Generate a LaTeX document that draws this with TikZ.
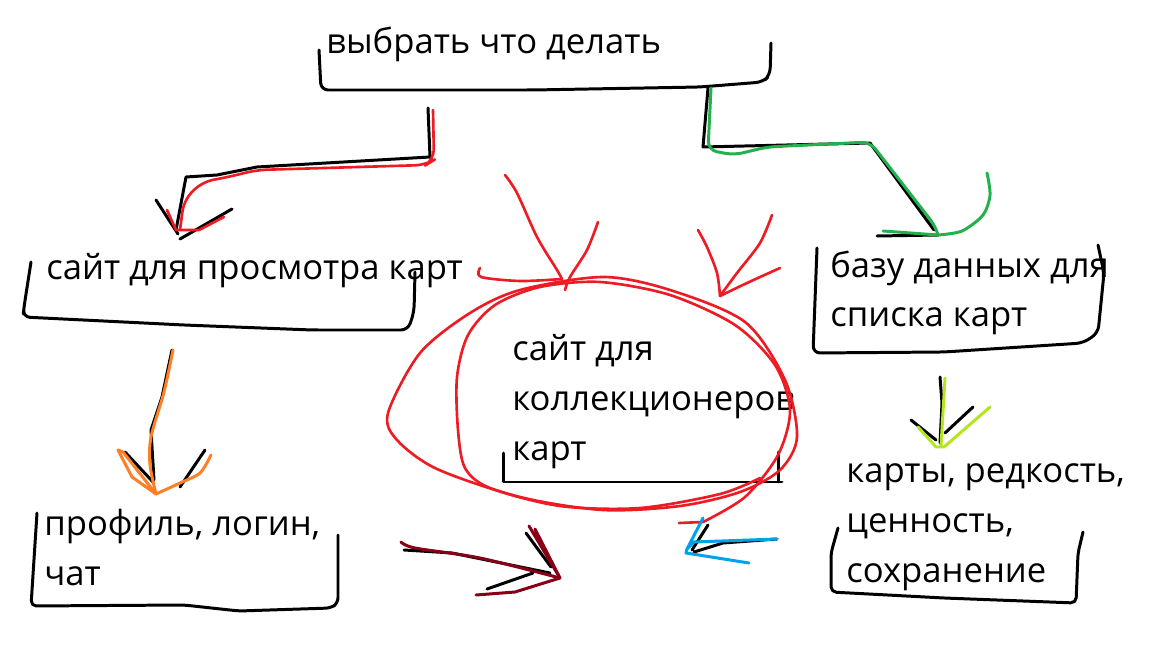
\documentclass[tikz,border=0pt]{standalone}
\usepackage{fontspec}
\setmainfont{Open Sans}
\usetikzlibrary{positioning}
\definecolor{paintred}{RGB}{237,28,36}
\definecolor{paintgreen}{RGB}{34,177,76}
\definecolor{paintorange}{RGB}{255,127,39}
\definecolor{paintwine}{RGB}{136,0,21}
\definecolor{paintblue}{RGB}{0,162,232}
\definecolor{paintlime}{RGB}{181,230,29}
\tikzset{
  pen/.style={line width=1.7pt,line cap=round,line join=round},
  redpen/.style={pen,line width=1.5pt,paintred},
  lbl/.style={anchor=base west,inner sep=0pt,align=left,font=\fontsize{19.7}{28.35}\selectfont}
}
\begin{document}
\begin{tikzpicture}[x=0.02cm,y=-0.02cm]
  \useasboundingbox (0,0) rectangle (1152,648);
  % labels (base = last line)
  \node[lbl] (task) at (326,54) {выбрать что делать};
  \node[lbl] (viewer) at (46,280) {сайт для просмотра карт};
  \node[lbl] (db) at (830,327) {базу данных для\\списка карт};
  \node[lbl] (collector) at (512,460) {сайт для\\коллекционеров\\карт};
  \node[lbl] (profile) at (44,585) {профиль, логин,\\чат};
  \node[lbl] (cards) at (846,582) {карты, редкость,\\ценность,\\сохранение};
  % hand drawn brackets
  \draw[pen,rounded corners=4pt] (319,50) -- (321,90) -- (533,90) -- (700,87) -- (763,82) -- (770,75) -- (771,43);
  \draw[pen,rounded corners=4pt] (31,262) -- (24,307) -- (23,317) -- (184,325) -- (312,330) -- (408,330) -- (414,312) -- (415,272);
  \draw[pen,rounded corners=4pt] (817,248) -- (813,353) -- (944,352) -- (1083,343) -- (1098,333) -- (1104,273) -- (1098,245);
  \draw[pen,rounded corners=3pt] (37,513) -- (31,606) -- (184,605) -- (239,611) -- (331,608) -- (338,603) -- (338,535);
  \draw[pen,rounded corners=3pt] (838,528) -- (831,553) -- (831,592) -- (944,598) -- (1076,603) -- (1078,553) -- (1083,532);
  \draw[pen] (503,453) -- (503,482) -- (782,482) (778,452) -- (778,482);
  % task -> viewer
  \coordinate (taskL) at (433,110);
  \coordinate (viewerT) at (178,234);
  \draw[pen] (taskL) ++(-5,-2) -- (430,157) -- (257,167) -- (217,175) -- (186,177) -- (176,230);
  \draw[pen] (156,200) -- (viewerT) (232,209) -- (180,239);
  \draw[redpen,rounded corners=6pt] (taskL) -- (434,160) -- (426,165) -- (257,170) -- (228,177) -- (202,182) -- (184,200) -- (180,230);
  \draw[redpen] (167,210) -- (176,230) -- (199,230) -- (224,217);
  % task -> db
  \coordinate (taskR) at (711,88);
  \coordinate (dbT) at (938,235);
  \draw[pen] (taskR) ++(-3,0) -- (703,147) -- (870,143) -- (934,230) (877,236) -- (dbT);
  \draw[pen,paintgreen,rounded corners=5pt] (taskR) -- (708,150) -- (734,155) -- (767,147) -- (870,142) -- (936,227) -- (dbT);
  \draw[pen,paintgreen] (883,231) -- (dbT);
  \draw[pen,paintgreen] plot[smooth] coordinates {(dbT) (962,231) (983,215) (990,195) (987,173)};
  % viewer -> profile
  \coordinate (viewerB) at (172,350);
  \coordinate (profileT) at (156,494);
  \draw[pen] (viewerB) -- (162,397) -- (151,430) -- (154,480) (125,452) -- (153,482) (205,450) -- (180,487);
  \draw[pen,paintorange] plot[smooth] coordinates {(173,350) (164,392) (151,437) (150,465) (profileT)};
  \draw[pen,paintorange] (118,450) -- (132,477) -- (profileT) -- (123,452) -- (118,450);
  \draw[pen,paintorange] plot[smooth] coordinates {(profileT) (180,483) (200,473) (211,455)};
  % db -> cards
  \coordinate (dbB) at (940,377);
  \coordinate (cardsT) at (941,446);
  \draw[pen] (dbB) -- (942,403) -- (940,443) (911,420) -- (936,440) (973,407) -- (945,433);
  \draw[pen,paintlime] (945,378) -- (cardsT) (918,427) -- (936,447) -- (944,447) -- (990,407);
  % collector circle
  \draw[redpen] plot[smooth cycle] coordinates {(388,413) (397,440) (437,469) (520,497) (603,510) (680,506) (740,492) (780,470) (797,437) (785,380) (745,322) (670,290) (603,277) (520,290) (470,313) (420,353)};
  \draw[redpen] (679,523) -- (703,522) plot[smooth] coordinates {(703,522) (745,497) (778,455) (790,410) (775,365) (735,325) (670,295) (600,282) (540,287) (495,305) (468,335) (457,377) (458,430) (465,468) (490,488) (560,506) (640,508) (720,494) (760,478)};
  % arrows into the circle
  \coordinate (colTL) at (562,279);
  \coordinate (colTR) at (720,296);
  \draw[redpen] plot[smooth] coordinates {(505,175) (517,193) (537,237) (557,270) (colTL)};
  \draw[redpen] plot[smooth] coordinates {(598,222) (587,250) (570,277) (565,290)};
  \draw[redpen] plot[smooth] coordinates {(480,268) (481,277) (520,281) (colTL)};
  \draw[redpen] plot[smooth] coordinates {(698,230) (707,247) (717,273) (colTR)};
  \draw[redpen] plot[smooth] coordinates {(772,215) (760,243) (737,273) (colTR)};
  \draw[redpen] plot[smooth] coordinates {(780,268) (747,283) (colTR)};
  % profile -> collector
  \coordinate (profileR) at (403,546);
  \coordinate (colBL) at (560,578);
  \draw[pen] (profileR) ++(1,4) -- (452,553) -- (550,573) (526,533) -- (551,567) (487,589) -- (533,573);
  \draw[pen,paintwine] plot[smooth] coordinates {(401,542) (415,548) (480,558) (colBL)};
  \draw[pen,paintwine] (529,526) -- (colBL) -- (535,529) (476,595) -- (515,592) -- (colBL);
  % cards -> collector
  \coordinate (cardsL) at (777,539);
  \coordinate (colBR) at (687,549);
  \draw[pen] (708,525) -- (692,550) (cardsL) -- (723,543) -- (694,552);
  \draw[pen,paintblue] (703,518) -- (colBR) (cardsL) -- (694,542) -- (colBR) -- (686,553) -- (749,563);
\end{tikzpicture}
\end{document}
